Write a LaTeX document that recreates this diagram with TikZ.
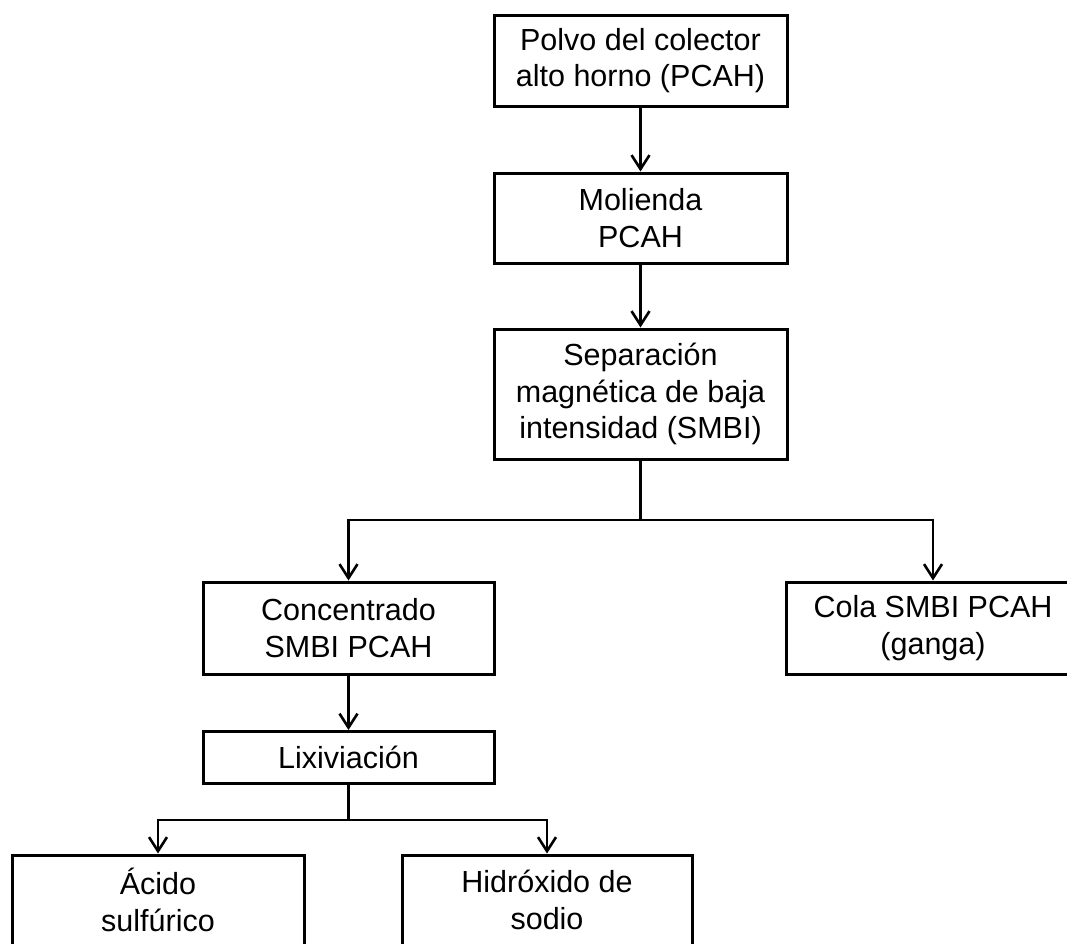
\documentclass[tikz,border=0pt]{standalone}
\usepackage{fontspec}
\setmainfont{Liberation Sans}
\usetikzlibrary{arrows.meta}
\begin{document}
\begin{tikzpicture}[x=1pt,y=-1pt,
  box/.style={draw=black, line width=3pt, fill=white, align=center,
    inner sep=0pt, font=\fontsize{30.5}{36.5}\selectfont},
  arr/.style={line width=2.6pt, -{Straight Barb[length=14pt,width=18pt]}},
  con/.style={line width=2.6pt}]
\useasboundingbox (0,0) rectangle (1067,943);
\clip (0,0) rectangle (1067,943);
\fill[white] (0,0) rectangle (1067,943);
\node[box, minimum width=293pt, minimum height=91pt] (b1) at (640.5,60.5) {Polvo del colector\\alto horno (PCAH)};
\node[box, minimum width=293pt, minimum height=90pt] (b2) at (640.5,218) {Molienda\\PCAH};
\node[box, minimum width=293pt, minimum height=130pt] (b3) at (640.5,394) {Separación\\magnética de baja\\intensidad (SMBI)};
\node[box, minimum width=291pt, minimum height=92pt] (b4) at (348.5,628) {Concentrado\\SMBI PCAH};
\node[box, minimum width=294pt, minimum height=92pt] (b5) at (933,628) {Cola SMBI PCAH\\(ganga)};
\node[box, minimum width=291pt, minimum height=52pt] (b6) at (348.5,757.5) {Lixiviación};
\node[box, minimum width=292pt, minimum height=90pt] (b7) at (158,900) {Ácido\\sulfúrico};
\node[box, minimum width=290pt, minimum height=90pt] (b8) at (547,900) {Hidróxido de\\sodio};
\coordinate (j1) at (640.5,520);
\coordinate (j2) at (348.5,820);
\draw[arr] (b1.south) -- (b2.north);
\draw[arr] (b2.south) -- (b3.north);
\draw[con] (b3.south) -- (j1);
\draw[arr] (j1) -| (b4.north);
\draw[arr] (j1) -| (b5.north);
\draw[arr] (b4.south) -- (b6.north);
\draw[con] (b6.south) -- (j2);
\draw[arr] (j2) -| (b7.north);
\draw[arr] (j2) -| (b8.north);
\end{tikzpicture}
\end{document}
